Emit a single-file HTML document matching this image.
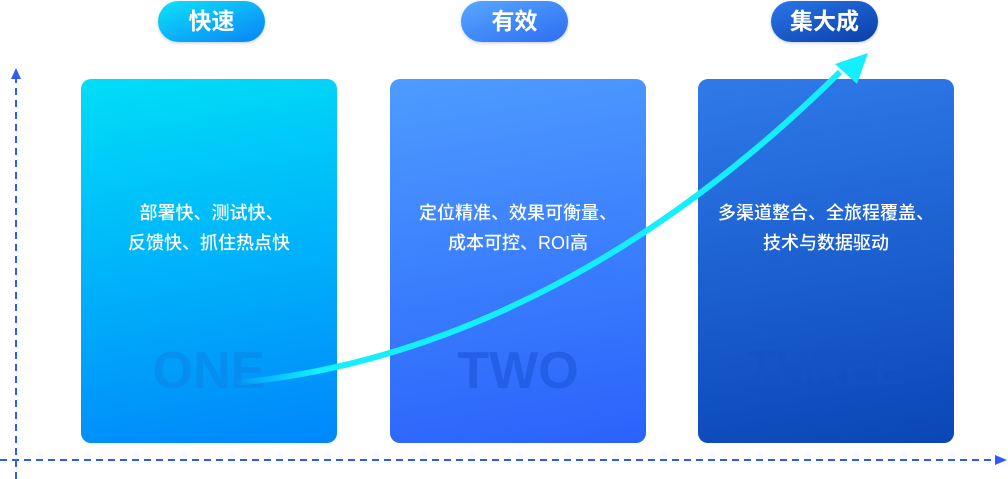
<!DOCTYPE html>
<html><head><meta charset="utf-8"><style>
body{margin:0;width:1008px;height:479px;background:#fff;position:relative;overflow:hidden;font-family:"Liberation Sans","Noto Sans CJK SC",sans-serif}
.pill{position:absolute;top:1px;height:41px;border-radius:21px;color:#fff;font-weight:bold;font-size:23px;line-height:41px;text-align:center;box-shadow:0 1px 3px rgba(0,60,180,.25)}
.card{position:absolute;top:79px;width:256px;height:364px;border-radius:10px}
.t{position:absolute;left:0;right:0;top:119px;text-align:center;color:#fff;font-size:18px;font-weight:500;line-height:30px}
.big{position:absolute;left:0;right:0;top:262px;text-align:center;font-weight:bold;font-size:52px;white-space:nowrap}
</style></head><body>
<div class="pill" style="left:158px;width:107px;background:linear-gradient(160deg,#0de3f8,#0a82f8)">快速</div>
<div class="pill" style="left:461px;width:107px;background:linear-gradient(160deg,#56a8ff,#2f6cf2)">有效</div>
<div class="pill" style="left:771px;width:107px;background:linear-gradient(160deg,#2a76e8,#0a3ea8)">集大成</div>

<div class="card" style="left:81px;background:linear-gradient(170deg,#00def8,#0087fb)"><div class="t">&nbsp;部署快、测试快、<br>反馈快、抓住热点快</div><div class="big" style="color:#0a86e8;opacity:.6">ONE</div></div>
<div class="card" style="left:390px;background:linear-gradient(170deg,#4d9cff,#2a62fb)"><div class="t">定位精准、效果可衡量、<br>成本可控、ROI高</div><div class="big" style="color:#1e5ae0;opacity:.75">TWO</div></div>
<div class="card" style="left:698px;background:linear-gradient(170deg,#2f7aea,#0a46b6)"><div class="t">多渠道整合、全旅程覆盖、<br>技术与数据驱动</div><div class="big" style="color:#1652c4;opacity:.75;font-size:48px;letter-spacing:-1px">THREE</div></div>

<svg width="1008" height="479" style="position:absolute;left:0;top:0">
<line x1="16" y1="479" x2="16" y2="78" stroke="#2f5cf5" stroke-width="2" stroke-dasharray="7,5"/>
<polygon points="16,68 11,79 21,79" fill="#2f5cf5"/>
<line x1="0" y1="460" x2="996" y2="460" stroke="#2f5cf5" stroke-width="2" stroke-dasharray="7,5"/>
<polygon points="1007,460 995,455 995,465" fill="#2f5cf5"/>
<defs><linearGradient id="g" x1="235" y1="0" x2="400" y2="0" gradientUnits="userSpaceOnUse"><stop offset="0" stop-color="#14eeff" stop-opacity="0"/><stop offset=".5" stop-color="#14eeff"/></linearGradient></defs>
<path d="M235,383 C430,365 640,270 840,72" fill="none" stroke="url(#g)" stroke-width="6"/>
<polygon points="868,53 835,64 857,84" fill="#14eeff"/>
</svg>
</body></html>
